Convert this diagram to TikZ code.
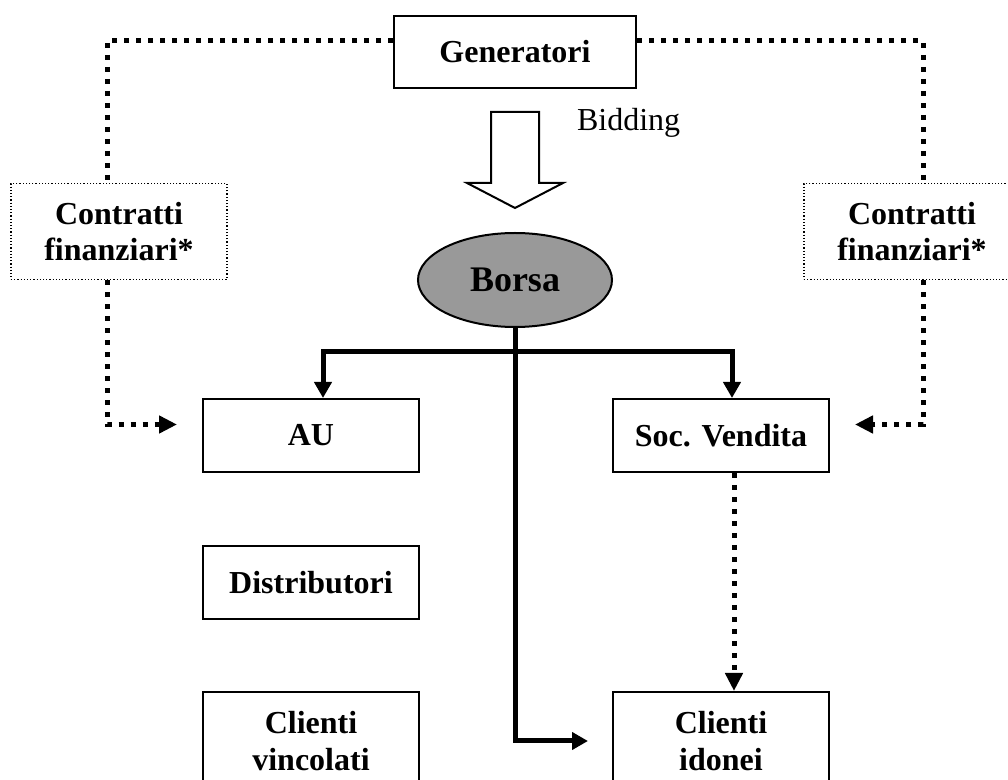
\documentclass[tikz,border=0pt]{standalone}
\usepackage{fontspec}
\setmainfont{Liberation Serif}
\usetikzlibrary{arrows.meta, positioning, shapes.geometric}
\tikzset{
  box/.style={
    draw,
    line width=1pt,
    rectangle,
    minimum width=108pt,
    minimum height=36.5pt,
    inner sep=0pt,
    align=center,
    font=\fontsize{16}{18}\selectfont\bfseries,
  },
  tallbox/.style={
    box,
    minimum height=49pt,
    font=\fontsize{16}{18.5}\selectfont\bfseries
  },
  dotbox/.style={
    box,
    line width=0.6pt,
    densely dotted,
    minimum height=48pt
  },
  flow/.style={
    line width=2.5pt,
    -{Triangle[length=8pt,width=8.5pt]}
  },
  dotline/.style={
    line width=2.5pt,
    dash pattern=on 2.5pt off 3.5pt
  },
  dotflow/.style={
    dotline,
    -{Triangle[length=9pt,width=8.5pt]}
  }
}
\begin{document}
\begin{tikzpicture}[x=0.5pt, y=-0.5pt]
\clip (0,0) rectangle (1008,780);

% --- Generatori e contratti ---
\node[box, minimum width=121pt, minimum height=36pt] (gen) at (515,52) {Generatori};
\node[dotbox] (contrL) at (119,231.5) {Contratti\\finanziari*};
\node[dotbox] (contrR) at (912,231.5) {Contratti\\finanziari*};

% --- Borsa ---
\node[ellipse, draw, line width=1pt, fill=black!40,
      minimum width=97pt, minimum height=47pt,
      font=\fontsize{18}{20}\selectfont\bfseries] (borsa) at (515,280) {Borsa};

% --- Freccia vuota (bidding) ---
\draw[line width=1pt] (491,112) -- (539,112) -- (539,183) -- (563,183)
    -- (515,208) -- (467,183) -- (491,183) -- cycle;
\node[anchor=west, font=\fontsize{16}{18}\selectfont] (bid) at (570,123) {Bidding};

% --- Acquirenti ---
\node[box] (au) at (311,435.5) {AU};
\node[box, right=96pt of au] (vend) {Soc. Vendita};
\node[box, below=36pt of au] (distr) {Distributori};
\node[tallbox, below=35.5pt of distr] (vinc) {Clienti\\vincolati};
\node[tallbox, right=96pt of vinc] (idon) {Clienti\\idonei};

% --- Flussi dalla borsa ---
\coordinate (split) at (515,352);
\draw[flow] (borsa.south) |- ([xshift=-12pt]idon.west);
\draw[flow] (split) -| ([xshift=6pt]au.north);
\draw[flow] (split) -| ([xshift=5.5pt]vend.north);

% --- Contratti finanziari (tratteggiati) ---
\draw[dotline] ([yshift=5.5pt]gen.west) -| ([xshift=-6pt]contrL.north);
\draw[dotflow] ([xshift=-6pt]contrL.south) |- ([xshift=-12.5pt,yshift=5.5pt]au.west);
\draw[dotline] ([yshift=5.5pt]gen.east) -| ([xshift=5.5pt]contrR.north);
\draw[dotflow] ([xshift=5.5pt]contrR.south) |- ([xshift=12.5pt,yshift=5.5pt]vend.east);
\draw[dotflow] ([xshift=6.5pt]vend.south) -- ([xshift=6.5pt]idon.north);

\end{tikzpicture}
\end{document}
